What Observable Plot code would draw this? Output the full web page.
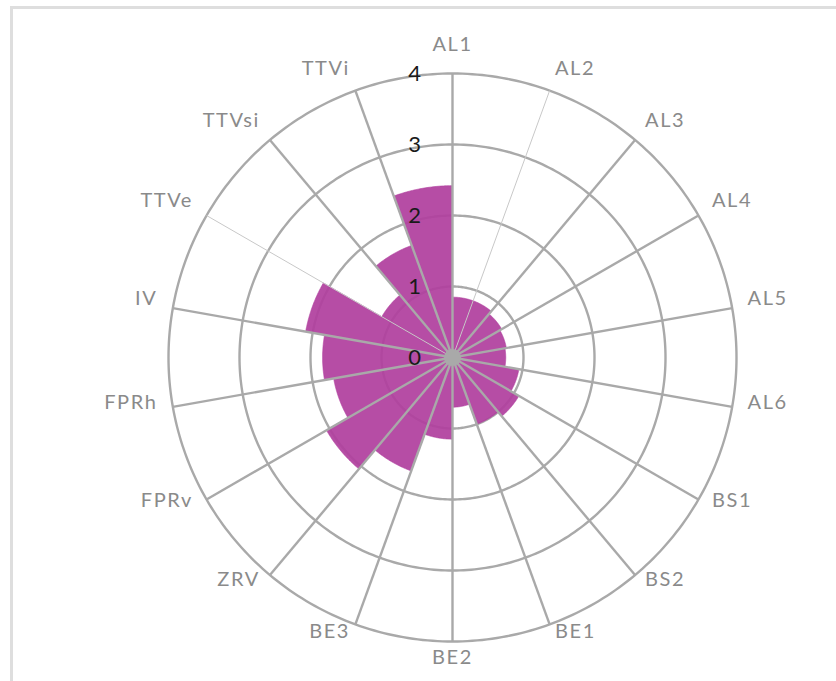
<!DOCTYPE html>
<html>
<head>
<meta charset="utf-8">
<script src="https://cdn.jsdelivr.net/npm/d3@7"></script>
<script src="https://cdn.jsdelivr.net/npm/@observablehq/plot@0.6"></script>
<style>
  html, body { margin: 0; padding: 0; background: #ffffff; }
  #wrap { position: relative; width: 836px; height: 681px; overflow: hidden; }
  #frame { position: absolute; left: 10px; top: 6px; width: 830px; height: 680px;
           border-left: 3px solid #dedede; border-top: 3px solid #dedede; box-sizing: border-box; }
  #chart { position: absolute; left: 0; top: 0; }
</style>
</head>
<body>
<div id="wrap"><div id="frame"></div><div id="chart"></div></div>
<script>
// ---- data ----
const categories = ["AL1","AL2","AL3","AL4","AL5","AL6","BS1","BS2","BE1","BE2","BE3","ZRV","FPRv","FPRh","IV","TTVe","TTVsi","TTVi"];
const values     = [0.85, 0.85, 0.80, 0.77, 0.75, 0.95, 1.08, 1.00, 0.70, 1.15, 1.70, 2.05, 1.70, 1.83, 2.10, 1.15, 1.68, 2.42];
const tickValues = [0, 1, 2, 3, 4];
const thinSpokes = ["AL2", "TTVe"];

// ---- geometry helpers (polar -> cartesian in data units) ----
const n = categories.length;
const step = 360 / n;
const rad = d => d * Math.PI / 180;
const px = (r, a) => r * Math.sin(rad(a));
const py = (r, a) => r * Math.cos(rad(a));
const rMax = d3.max(tickValues);

// wedges: sector k spans from spoke k to spoke k+1 (clockwise from top)
const wedges = [];
categories.forEach((c, k) => {
  const a0 = k * step, a1 = (k + 1) * step, v = values[k];
  wedges.push({k, x: 0, y: 0});
  for (let a = a0; a <= a1 + 1e-9; a += 0.5) wedges.push({k, x: px(v, a), y: py(v, a)});
  wedges.push({k, x: 0, y: 0});
});

// rings
const rings = [];
tickValues.filter(t => t > 0).forEach(t => {
  for (let a = 0; a <= 360; a += 1) rings.push({t, x: px(t, a), y: py(t, a)});
});

// spokes
const spokes = categories.map((c, k) => ({c, a: k * step}));

// category labels
const labR = rMax * 1.055;
const labels = categories.map((c, k) => {
  const a = k * step, s = Math.sin(rad(a)), co = Math.cos(rad(a));
  return {
    c, x: px(labR, a), y: py(labR, a),
    anchor: s > 0.15 ? "start" : s < -0.15 ? "end" : "middle",
    line: co > 0.95 ? "bottom" : co < -0.95 ? "top" : "middle"
  };
});
const labelGroups = d3.groups(labels, d => d.anchor + "|" + d.line);

// ---- scales: 71 px per unit, centre at (452, 357) ----
const W = 836, H = 681, cx = 452, cy = 357, k = 71;
const grid = "#a9a9a9";
const purple = "#b0409e";

const plot = Plot.plot({
  width: W, height: H,
  margin: 0,
  style: {background: "transparent", fontFamily: "Lato, 'Open Sans', sans-serif"},
  x: {domain: [-cx / k, (W - cx) / k], axis: null},
  y: {domain: [-(H - cy) / k, cy / k], axis: null},
  marks: [
    Plot.line(rings, {x: "x", y: "y", z: "t", stroke: grid, strokeWidth: 2.4}),
    Plot.line(wedges, {x: "x", y: "y", z: "k", fill: purple, fillOpacity: 0.93, stroke: purple, strokeOpacity: 0.6, strokeWidth: 1, curve: "linear"}),
    Plot.link(spokes, {
      x1: 0, y1: 0,
      x2: d => px(rMax, d.a), y2: d => py(rMax, d.a),
      stroke: d => thinSpokes.includes(d.c) ? "#c8c8c8" : grid,
      strokeWidth: d => thinSpokes.includes(d.c) ? 1 : 2.4
    }),
    Plot.dot([{x: 0, y: 0}], {x: "x", y: "y", r: 8.5, fill: "#a9a9a9"}),
    Plot.text(tickValues, {x: 0, y: d => d, text: d => String(d), dx: -38, fill: "#1a1a1a", fontSize: 22, textAnchor: "middle", lineAnchor: "middle"}),
    ...labelGroups.map(([key, rows]) => Plot.text(rows, {
      x: "x", y: "y", text: "c", dy: -7,
      textAnchor: rows[0].anchor, lineAnchor: rows[0].line,
      fill: "#8a8a8a", fontSize: 20
    }))
  ]
});
// widen the category label lettering (reference type is set wide)
plot.querySelectorAll('g[aria-label="text"] text').forEach(t => {
  if (categories.includes(t.textContent)) t.style.letterSpacing = "1.6px";
});
document.getElementById("chart").appendChild(plot);
</script>
</body>
</html>
